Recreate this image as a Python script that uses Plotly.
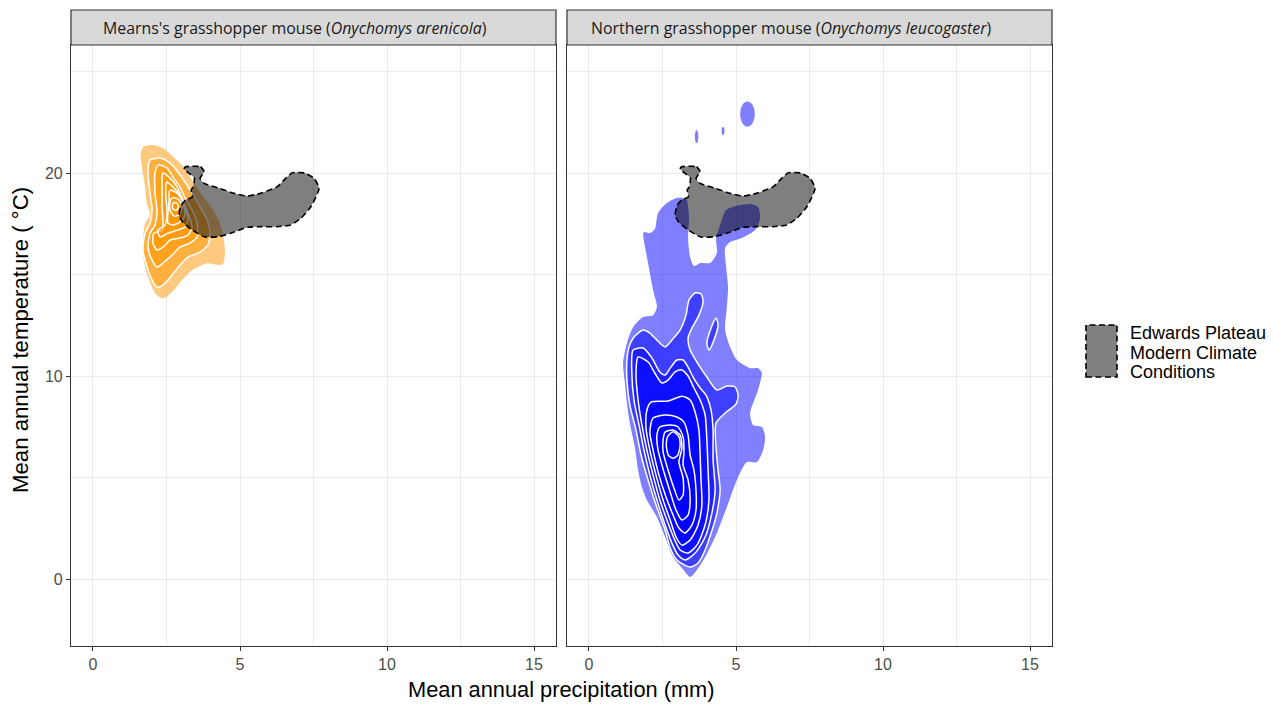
import plotly.graph_objects as go

# ---------------------------------------------------------------
# Edwards Plateau modern climate envelope (precip mm, temp °C)
# ---------------------------------------------------------------
plateau_precip = [3.15, 3.66, 3.78, 3.64, 3.78, 4.29, 4.80, 5.25, 5.70, 6.27, 6.55, 6.78,
                  7.18, 7.52, 7.69, 7.41, 7.07, 6.72, 6.27, 5.70, 5.25, 4.68, 4.23, 3.78,
                  3.38, 3.04, 2.93, 3.00, 3.15, 3.38, 3.34, 3.41, 3.45, 3.30, 3.10]
plateau_temp = [20.31, 20.31, 20.06, 19.75, 19.49, 19.25, 19.00, 18.87, 19.00, 19.33, 19.74, 20.01,
                20.01, 19.74, 19.25, 18.34, 17.77, 17.44, 17.36, 17.36, 17.33, 17.03, 16.86, 16.86,
                17.19, 17.60, 17.93, 18.42, 18.67, 18.83, 19.16, 19.33, 19.75, 19.95, 20.20]

# ---------------------------------------------------------------
# Onychomys arenicola: 2-D density levels, outermost first
# ---------------------------------------------------------------
aren_l0_precip = [1.71, 2.05, 2.39, 2.73, 3.07, 3.30, 3.50, 3.75, 4.09, 4.32, 4.43, 4.49, 4.43, 4.26,
                  3.87, 3.47, 3.13, 2.85, 2.51, 2.34, 2.17, 2.00, 1.83, 1.71, 1.71, 1.77, 1.94, 1.83,
                  1.77, 1.66, 1.62]
aren_l0_temp = [21.30, 21.38, 21.22, 20.80, 20.31, 19.82, 19.36, 18.83, 18.18, 17.52, 16.86, 16.21,
                15.55, 15.47, 15.55, 15.31, 14.89, 14.40, 13.91, 13.83, 13.99, 14.40, 15.06, 15.88,
                16.87, 17.52, 17.93, 18.51, 19.33, 20.31, 20.97]
aren_l1_precip = [1.94, 2.28, 2.62, 2.89, 3.13, 3.37, 3.64, 3.88, 3.98, 3.91, 3.64, 3.23, 2.96, 2.69,
                  2.38, 2.18, 2.01, 1.84, 1.70, 1.77, 1.94, 2.01, 1.94, 1.87]
aren_l1_temp = [20.64, 20.74, 20.49, 20.05, 19.56, 19.01, 18.33, 17.70, 17.06, 16.47, 16.11, 15.86,
                15.47, 14.98, 14.48, 14.38, 14.73, 15.37, 16.21, 17.04, 17.54, 18.18, 19.01, 20.00]
aren_l2_precip = [2.21, 2.52, 2.72, 2.96, 3.13, 3.37, 3.54, 3.54, 3.30, 2.96, 2.69, 2.38, 2.18, 2.01,
                  1.87, 1.94, 2.11, 2.18, 2.11, 2.11]
aren_l2_temp = [20.39, 20.25, 19.80, 19.31, 18.77, 18.18, 17.54, 16.85, 16.55, 16.35, 15.96, 15.57,
                15.37, 15.71, 16.35, 17.04, 17.44, 18.08, 19.01, 20.00]
aren_l3_precip = [2.38, 2.62, 2.86, 3.06, 3.23, 3.37, 3.23, 2.96, 2.62, 2.38, 2.18, 2.04, 2.07, 2.35,
                  2.38, 2.35, 2.35, 2.35]
aren_l3_temp = [20.00, 19.75, 19.31, 18.67, 18.03, 17.34, 16.95, 16.80, 16.70, 16.35, 16.21, 16.55,
                17.04, 17.19, 17.68, 18.33, 19.16, 19.75]
aren_l4_precip = [2.52, 2.72, 2.96, 3.13, 3.23, 3.13, 2.86, 2.55, 2.28, 2.21, 2.45, 2.52, 2.48, 2.48]
aren_l4_temp = [19.56, 19.31, 18.92, 18.33, 17.68, 17.34, 17.19, 17.04, 16.85, 17.19, 17.44, 18.08,
                18.82, 19.41]
aren_l5_precip = [2.62, 2.86, 3.06, 3.13, 2.96, 2.72, 2.55, 2.55, 2.59, 2.59]
aren_l5_temp = [19.16, 19.01, 18.52, 17.93, 17.59, 17.44, 17.54, 18.03, 18.67, 19.01]
aren_l6_precip = [2.69, 2.89, 3.03, 2.96, 2.76, 2.62, 2.62]
aren_l6_temp = [18.77, 18.72, 18.37, 17.98, 17.88, 18.18, 18.57]
aren_l7_precip = [2.74, 2.86, 2.90, 2.82, 2.70]
aren_l7_temp = [18.55, 18.50, 18.30, 18.16, 18.28]

# ---------------------------------------------------------------
# Onychomys leucogaster: 2-D density levels, outermost first
# ---------------------------------------------------------------
leuc_l0_precip = [2.99, 3.30, 3.40, 3.37, 3.44, 3.57, 3.78, 4.12, 4.35, 4.32, 4.46, 4.66, 4.97, 5.54,
                  5.75, 5.82, 5.65, 5.20, 4.80, 4.63, 4.66, 4.73, 4.69, 4.63, 4.80, 5.03, 5.48, 5.75,
                  5.82, 5.88, 5.75, 5.48, 5.58, 5.88, 5.99, 5.92, 5.71, 5.37, 5.03, 4.69, 4.35, 3.95,
                  3.67, 3.44, 3.16, 2.86, 2.59, 2.31, 1.97, 1.80, 1.67, 1.56, 1.39, 1.29, 1.22, 1.16,
                  1.29, 1.50, 1.84, 2.18, 2.31, 2.18, 1.97, 1.84, 1.87, 2.07, 2.24, 2.35, 2.65]
leuc_l0_temp = [18.77, 18.72, 17.93, 16.80, 15.86, 15.42, 15.57, 15.57, 16.06, 16.80, 17.44, 18.18,
                18.37, 18.47, 18.33, 17.78, 17.19, 16.80, 16.60, 16.31, 15.42, 14.38, 13.40, 12.27,
                11.43, 10.79, 10.39, 10.39, 10.30, 10.15, 9.31, 8.18, 7.59, 7.49, 7.00, 6.35, 5.76,
                5.76, 4.88, 3.55, 2.27, 1.08, 0.44, 0.10, 0.54, 1.08, 2.07, 3.05, 3.89, 4.53, 5.37,
                6.50, 7.68, 8.67, 9.66, 10.64, 11.63, 12.41, 12.91, 13.00, 13.40, 14.24, 15.86,
                17.04, 17.09, 17.04, 17.24, 18.03, 18.52]
leuc_l1_precip = [1.84, 2.07, 2.31, 2.59, 2.82, 3.10, 3.30, 3.40, 3.61, 3.81, 3.88, 3.74, 3.50, 3.37,
                  3.44, 3.67, 4.01, 4.35, 4.69, 4.97, 5.07, 5.00, 4.63, 4.32, 4.32, 4.39, 4.46, 4.35,
                  4.22, 3.95, 3.71, 3.44, 2.99, 2.76, 2.59, 2.28, 2.01, 1.77, 1.60, 1.39, 1.29, 1.29,
                  1.36, 1.53]
leuc_l1_temp = [12.27, 12.12, 11.77, 11.43, 11.77, 12.27, 13.00, 13.74, 14.09, 14.04, 13.69, 13.00,
                12.36, 11.87, 11.28, 10.69, 9.95, 9.31, 9.51, 9.46, 9.06, 8.62, 8.18, 7.68, 6.50,
                5.37, 4.38, 3.25, 2.56, 1.43, 0.79, 0.59, 0.94, 1.53, 2.41, 3.65, 4.88, 6.11, 7.34,
                8.57, 9.80, 10.79, 11.43, 11.92]
leuc_l1b_precip = [4.32, 4.39, 4.25, 4.08, 4.01, 4.15]
leuc_l1b_temp = [12.86, 12.51, 11.77, 11.28, 11.63, 12.36]
leuc_l2_precip = [1.50, 1.84, 2.14, 2.41, 2.59, 2.76, 2.99, 3.20, 3.37, 3.54, 3.78, 3.98, 4.15, 4.22,
                  4.22, 4.29, 4.18, 3.95, 3.61, 3.27, 3.03, 2.82, 2.59, 2.31, 2.07, 1.87, 1.70, 1.53,
                  1.46]
leuc_l2_temp = [11.28, 11.38, 10.89, 10.20, 10.05, 10.39, 10.79, 10.79, 10.44, 9.95, 9.41, 9.06,
                8.33, 7.34, 5.86, 4.38, 3.25, 2.07, 1.28, 0.94, 1.18, 1.77, 2.66, 3.89, 5.12, 6.35,
                7.59, 8.82, 10.05]
leuc_l3_precip = [1.67, 2.01, 2.24, 2.48, 2.69, 2.93, 3.16, 3.37, 3.57, 3.78, 3.95, 4.01, 4.05, 4.08,
                  3.95, 3.67, 3.37, 3.10, 2.89, 2.65, 2.41, 2.18, 1.97, 1.80, 1.67, 1.60]
leuc_l3_temp = [10.94, 10.69, 10.15, 9.66, 9.80, 10.20, 10.30, 10.00, 9.41, 8.82, 8.08, 6.85, 5.37,
                3.89, 2.66, 1.67, 1.28, 1.43, 2.02, 2.91, 3.89, 5.12, 6.35, 7.59, 8.82, 10.05]
leuc_l4_precip = [2.11, 2.69, 3.16, 3.44, 3.61, 3.74, 3.78, 3.81, 3.84, 3.71, 3.44, 3.16, 2.96, 2.76,
                  2.52, 2.28, 2.07, 1.94, 1.97]
leuc_l4_temp = [8.72, 8.77, 9.01, 8.82, 8.23, 7.34, 6.11, 4.88, 3.65, 2.66, 1.92, 1.67, 2.07, 2.91,
                3.89, 5.12, 6.35, 7.44, 8.33]
leuc_l5_precip = [2.18, 2.59, 2.99, 3.23, 3.37, 3.44, 3.57, 3.64, 3.64, 3.50, 3.27, 3.06, 2.86, 2.62,
                  2.38, 2.18, 2.07]
leuc_l5_temp = [7.93, 8.08, 7.98, 7.73, 7.09, 6.11, 5.37, 4.38, 3.40, 2.66, 2.27, 2.51, 3.15, 4.04,
                5.12, 6.35, 7.24]
leuc_l6_precip = [2.41, 2.76, 3.03, 3.20, 3.23, 3.20, 3.37, 3.44, 3.37, 3.16, 2.96, 2.76, 2.55, 2.35,
                  2.31]
leuc_l6_temp = [7.49, 7.59, 7.49, 7.00, 6.26, 5.62, 4.88, 3.89, 3.15, 2.91, 3.40, 4.29, 5.27, 6.35,
                7.09]
leuc_l7_precip = [2.59, 2.86, 3.10, 3.16, 3.06, 3.20, 3.20, 3.06, 2.89, 2.69, 2.52, 2.52]
leuc_l7_temp = [7.24, 7.34, 7.09, 6.45, 5.76, 4.98, 4.14, 3.89, 4.48, 5.37, 6.26, 6.85]
leuc_l8_precip = [2.86, 3.04, 3.10, 3.02, 2.86, 2.70, 2.63, 2.69]
leuc_l8_temp = [7.25, 7.05, 6.60, 6.10, 5.95, 6.10, 6.60, 7.05]

# small isolated density islands (centre and half extents)
island_precip = [5.39, 3.66, 4.56]
island_temp = [22.91, 21.80, 22.07]
island_half_w = [0.25, 0.06, 0.05]
island_half_h = [0.62, 0.32, 0.20]

# axis ticks, facet titles and legend text
precip_ticks = [0, 5, 10, 15]
temp_ticks = [0, 10, 20]
facet_titles = ["Mearns's grasshopper mouse (<i>Onychomys arenicola</i>)",
                "Northern grasshopper mouse (<i>Onychomys leucogaster</i>)"]
legend_lines = ["Edwards Plateau", "Modern Climate", "Conditions"]

W, H = 1274, 705
ORANGE = "rgba(255,150,0,0.5)"
BLUE = "rgba(0,0,255,0.5)"
SANS = "Liberation Sans, Arial, sans-serif"


def px_x(v):
    return v / W


def px_y(v):
    return 1 - v / H


fig = go.Figure()


def add_level(xs, ys, fill, outlined, xa, ya):
    fig.add_trace(go.Scatter(
        x=xs + xs[:1], y=ys + ys[:1], mode="lines", fill="toself", fillcolor=fill,
        line=dict(color="white" if outlined else "rgba(0,0,0,0)", width=1.5 if outlined else 0,
                  shape="spline", smoothing=0.7),
        xaxis=xa, yaxis=ya, hoverinfo="skip", showlegend=False))


aren_levels = [(aren_l0_precip, aren_l0_temp), (aren_l1_precip, aren_l1_temp),
               (aren_l2_precip, aren_l2_temp), (aren_l3_precip, aren_l3_temp),
               (aren_l4_precip, aren_l4_temp), (aren_l5_precip, aren_l5_temp),
               (aren_l6_precip, aren_l6_temp), (aren_l7_precip, aren_l7_temp)]
for i, (xs, ys) in enumerate(aren_levels):
    add_level(xs, ys, ORANGE, i > 0, "x", "y")

leuc_levels = [(leuc_l0_precip, leuc_l0_temp), (leuc_l1_precip, leuc_l1_temp),
               (leuc_l1b_precip, leuc_l1b_temp), (leuc_l2_precip, leuc_l2_temp),
               (leuc_l3_precip, leuc_l3_temp), (leuc_l4_precip, leuc_l4_temp),
               (leuc_l5_precip, leuc_l5_temp), (leuc_l6_precip, leuc_l6_temp),
               (leuc_l7_precip, leuc_l7_temp), (leuc_l8_precip, leuc_l8_temp)]
for i, (xs, ys) in enumerate(leuc_levels):
    add_level(xs, ys, BLUE, i > 0, "x2", "y2")

# Edwards Plateau envelope on top of both panels
for xa, ya in (("x", "y"), ("x2", "y2")):
    fig.add_trace(go.Scatter(
        x=plateau_precip + plateau_precip[:1], y=plateau_temp + plateau_temp[:1],
        mode="lines", fill="toself", fillcolor="rgba(0,0,0,0.5)",
        line=dict(color="black", width=1.6, dash="6px,3.5px", shape="spline", smoothing=0.5),
        xaxis=xa, yaxis=ya, hoverinfo="skip", showlegend=False))

shapes = []
for cx, cy, hw, hh in zip(island_precip, island_temp, island_half_w, island_half_h):
    shapes.append(dict(type="circle", xref="x2", yref="y2", x0=cx - hw, x1=cx + hw,
                       y0=cy - hh, y1=cy + hh, fillcolor=BLUE, line=dict(width=0)))

panel_px = [(71, 556), (567, 1052)]
title_centres = [295, 791.5]
annotations = []
for (l, r), title, cx in zip(panel_px, facet_titles, title_centres):
    shapes.append(dict(type="rect", xref="paper", yref="paper", x0=px_x(l), x1=px_x(r),
                       y0=px_y(45), y1=px_y(10), fillcolor="#D9D9D9",
                       line=dict(color="#333333", width=1.2)))
    annotations.append(dict(text=title, xref="paper", yref="paper", x=px_x(cx), y=px_y(28),
                            showarrow=False, xanchor="center", yanchor="middle",
                            font=dict(family="Open Sans, sans-serif", size=15.9, color="#1A1A1A")))

# legend key and its three text lines
shapes.append(dict(type="rect", xref="paper", yref="paper", x0=px_x(1086), x1=px_x(1117),
                   y0=px_y(377), y1=px_y(325), fillcolor="#808080",
                   line=dict(color="black", width=1.6, dash="6px,3.5px")))
for line_text, cy in zip(legend_lines, [333, 352.5, 371.5]):
    annotations.append(dict(text=line_text, xref="paper", yref="paper", x=px_x(1128),
                            y=px_y(cy), showarrow=False, xanchor="left", yanchor="middle",
                            font=dict(family=SANS, size=18, color="black")))

annotations.append(dict(text="Mean annual precipitation (mm)", xref="paper", yref="paper",
                        x=px_x(561), y=px_y(689), showarrow=False, xanchor="center",
                        yanchor="middle", font=dict(family=SANS, size=21.8, color="black")))
annotations.append(dict(text="Mean annual temperature ( °C)", xref="paper", yref="paper",
                        x=px_x(20), y=px_y(340), showarrow=False, textangle=-90,
                        xanchor="center", yanchor="middle",
                        font=dict(family=SANS, size=22.2, color="black")))

grid = "#EBEBEB"
x_common = dict(range=[-0.748, 15.748], tickvals=precip_ticks, showgrid=True, gridcolor=grid,
                gridwidth=1.3, minor=dict(dtick=2.5, tick0=0, showgrid=True, gridcolor=grid,
                                          gridwidth=0.7),
                showline=True, mirror=True, linecolor="#333333", linewidth=1.2,
                ticks="outside", ticklen=4, tickcolor="#333333", tickwidth=1.2,
                tickfont=dict(family=SANS, size=16, color="#4D4D4D"), zeroline=False,
                fixedrange=True)
y_common = dict(range=[-3.30, 26.31], tickvals=temp_ticks, showgrid=True, gridcolor=grid,
                gridwidth=1.3, minor=dict(dtick=5, tick0=0, showgrid=True, gridcolor=grid,
                                          gridwidth=0.7),
                showline=True, mirror=True, linecolor="#333333", linewidth=1.2,
                tickcolor="#333333", tickwidth=1.2,
                tickfont=dict(family=SANS, size=16, color="#4D4D4D"), zeroline=False,
                domain=[px_y(646), px_y(45)], fixedrange=True)

fig.update_layout(
    width=W, height=H, margin=dict(l=0, r=0, t=0, b=0),
    paper_bgcolor="white", plot_bgcolor="white", showlegend=False,
    xaxis=dict(x_common, domain=[px_x(71), px_x(556)], anchor="y"),
    xaxis2=dict(x_common, domain=[px_x(567), px_x(1052)], anchor="y2"),
    yaxis=dict(y_common, anchor="x", ticks="outside", ticklen=4),
    yaxis2=dict(y_common, anchor="x2", matches="y", showticklabels=False, ticks=""),
    shapes=shapes, annotations=annotations,
)

fig.write_html("out.html")
